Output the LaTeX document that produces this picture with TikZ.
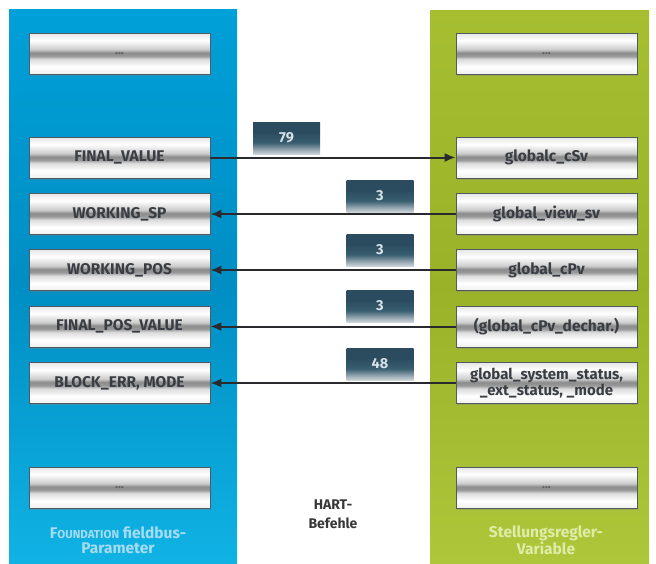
\documentclass[tikz,border=0pt]{standalone}
\usepackage{fontspec}
\setmainfont{Fira Sans}
\usetikzlibrary{arrows.meta,shadows}

\definecolor{fbblue}{RGB}{0,160,216}
\definecolor{fbbluedark}{RGB}{0,142,196}
\definecolor{fbbluelight}{RGB}{16,178,228}
\definecolor{svgreen}{RGB}{166,190,48}
\definecolor{svgreendark}{RGB}{154,178,40}
\definecolor{svgreenlight}{RGB}{174,198,58}
\definecolor{boxtext}{RGB}{58,62,68}
\definecolor{boxedge}{RGB}{80,90,96}
\definecolor{wire}{RGB}{40,42,46}
\definecolor{capblue}{RGB}{165,220,242}
\definecolor{capgreen}{RGB}{222,236,168}
\definecolor{tagtext}{RGB}{214,224,230}
\definecolor{tagtop}{RGB}{42,76,94}
\definecolor{tagmid}{RGB}{56,94,112}
\definecolor{tagfade}{RGB}{150,168,178}
\definecolor{tagbottom}{RGB}{214,220,223}

% metallic bar used for every parameter box (25bp = bottom, 75bp = top)
\pgfdeclareverticalshading{silverbar}{100bp}{%
  color(0bp)=(black!6); color(25bp)=(black!6); color(34bp)=(white);
  color(43bp)=(black!14); color(47bp)=(black!40); color(51bp)=(black!45);
  color(55bp)=(black!20); color(66bp)=(white); color(75bp)=(black!10);
  color(100bp)=(black!10)}
% dark tag carrying the HART command number
\pgfdeclareverticalshading{tagbar}{100bp}{%
  color(0bp)=(tagbottom); color(25bp)=(tagbottom); color(33bp)=(tagfade);
  color(44bp)=(tagmid); color(60bp)=(tagtop); color(75bp)=(tagtop);
  color(100bp)=(tagtop)}

\tikzset{
  x=1pt, y=-1pt,
  parbox/.style={draw=boxedge, line width=0.7pt, shading=silverbar,
    minimum width=181pt, minimum height=41pt, inner sep=1pt, align=center,
    text=boxtext, font=\bfseries\fontsize{15.5}{16}\selectfont,
    drop shadow={shadow xshift=1pt, shadow yshift=-1.5pt, opacity=0.35}},
  morebox/.style={parbox, text=black!62, font=\bfseries\fontsize{12}{14}\selectfont},
  cmdtag/.style={shading=tagbar, minimum width=67pt, minimum height=32pt,
    inner sep=0pt, anchor=south, text=tagtext,
    font=\bfseries\fontsize{14.5}{16}\selectfont},
  link/.style={draw=wire, line width=2pt,
    -{Latex[length=11pt,width=9pt]}},
  caption/.style={align=center}
}
\newcommand{\tagnum}[1]{\raisebox{2.5pt}{#1}}

\begin{document}
\begin{tikzpicture}
\useasboundingbox (0,0) rectangle (656,563);
\fill[white] (0,0) rectangle (656,563);

% the two columns
\shade[top color=fbblue, bottom color=fbbluelight, middle color=fbbluedark]
  (9,9) rectangle (237,563);
\shade[top color=svgreen, bottom color=svgreenlight, middle color=svgreendark]
  (430,10) rectangle (649,563);

% FOUNDATION fieldbus parameters
\node[morebox] (l0) at (119.5,53.5)  {...};
\node[parbox] (l1) at (119.5,157.5) {FINAL\_VALUE};
\node[parbox] (l2) at (119.5,214)   {WORKING\_SP};
\node[parbox] (l3) at (119.5,270)   {WORKING\_POS};
\node[parbox] (l4) at (119.5,326.5) {FINAL\_POS\_VALUE};
\node[parbox] (l5) at (119.5,383)   {BLOCK\_ERR, MODE};
\node[morebox] (l6) at (119.5,487.5) {...};

% positioner variables
\node[morebox] (r0) at (546.5,53.5)  {...};
\node[parbox] (r1) at (546.5,157.5) {globalc\_cSv};
\node[parbox] (r2) at (546.5,214)   {global\_view\_sv};
\node[parbox] (r3) at (546.5,270)   {global\_cPv};
\node[parbox] (r4) at (546.5,326.5) {(global\_cPv\_dechar.)};
\node[parbox, font=\bfseries\fontsize{15}{16.5}\selectfont] (r5) at (546.5,383)
  {global\_system\_status,\\\_ext\_status, \_mode};
\node[morebox] (r6) at (546.5,487.5) {...};

% HART command links
\draw[link] (l1.east) -- (r1.west);
\draw[link] (r2.west) -- (l2.east);
\draw[link] (r3.west) -- (l3.east);
\draw[link] (r4.west) -- (l4.east);
\draw[link] (r5.west) -- (l5.east);

% command numbers
\node[cmdtag] (c1) at (286.5,155) {\tagnum{79}};
\node[cmdtag] (c2) at (380,213)   {\tagnum{3}};
\node[cmdtag] (c3) at (380,267)   {\tagnum{3}};
\node[cmdtag] (c4) at (380,323)   {\tagnum{3}};
\node[cmdtag] (c5) at (380,381)   {\tagnum{48}};

% column captions
\node[caption, text=capblue, font=\bfseries\fontsize{15.5}{15.5}\selectfont]
  (capl) at (118,540)
  {F{\fontsize{11.5}{13}\selectfont OUNDATION} fieldbus-\\Parameter};
\node[caption, text=black!78, font=\bfseries\fontsize{14}{19}\selectfont]
  (capm) at (333,514) {HART-\\Befehle};
\node[caption, text=capgreen, font=\bfseries\fontsize{15.5}{15.5}\selectfont]
  (capr) at (546,540) {Stellungsregler-\\Variable};
\end{tikzpicture}
\end{document}
